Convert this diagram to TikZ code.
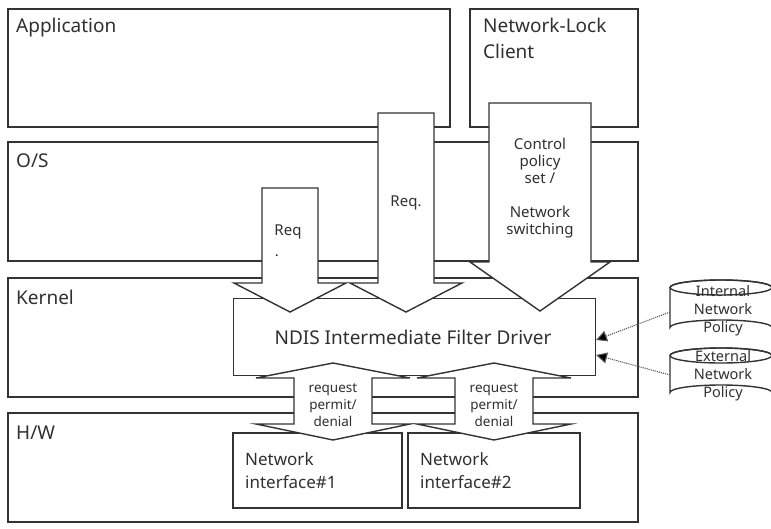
\documentclass[tikz,border=0pt]{standalone}
\usepackage{fontspec}
\setmainfont{Noto Sans}
\usetikzlibrary{arrows.meta}
\definecolor{ln}{HTML}{333333}
\definecolor{tx}{HTML}{303030}
\tikzset{
  layer/.style={draw=ln, line width=1.4pt, fill=white},
  blk/.style={draw=ln, line width=1.4pt, fill=white, line join=miter},
  lbl/.style={anchor=base west, inner sep=0pt, text=tx, font=\fontsize{19}{26}\selectfont},
  arrtxt/.style={inner sep=0pt, text=tx, align=center, font=\fontsize{15}{17}\selectfont},
  rqtxt/.style={inner sep=0pt, text=tx, align=center, font=\fontsize{13.5}{17}\selectfont},
  poltxt/.style={inner sep=0pt, text=tx, align=center, font=\fontsize{14.5}{18}\selectfont},
  niftxt/.style={inner sep=0pt, text=tx, align=left, anchor=north west, font=\fontsize{17}{23}\selectfont},
  polarrow/.style={draw=gray!70!black, densely dotted, line width=1.1pt, -{Triangle[length=11pt,width=11pt,fill=black]}}
}
\begin{document}
\begin{tikzpicture}[x=1pt,y=-1pt]
\useasboundingbox (0,0) rectangle (771,528);
% layers
\draw[layer] (8,9) rectangle (450,127);
\draw[layer] (470,9) rectangle (638,127);
\draw[layer] (8,142) rectangle (638,261);
\draw[layer] (8,278) rectangle (638,397);
\draw[layer] (8,413) rectangle (638,522);
% network interfaces
\draw[layer] (233,433) rectangle (402,508);
\draw[layer] (408,433) rectangle (580,508);
% NDIS
\node[layer, minimum width=362pt, minimum height=77pt, inner sep=0pt, anchor=north west] (ndis) at (233,298) {};
\node[inner sep=0pt, text=tx, font=\fontsize{19}{22}\selectfont] (ndistxt) at (413,337) {NDIS Intermediate Filter Driver};
% down arrows
\draw[blk] (262,188) -- (318,188) -- (318,283) -- (346,283) -- (290,312) -- (234,283) -- (262,283) -- cycle;
\draw[blk] (378,113) -- (434,113) -- (434,283) -- (462,283) -- (406,312) -- (350,283) -- (378,283) -- cycle;
\draw[blk] (489,103) -- (591,103) -- (591,262) -- (610,262) -- (540,311) -- (470,262) -- (489,262) -- cycle;
% double arrows
\draw[blk] (333,363) -- (410,378) -- (372,378) -- (372,424) -- (410,424) -- (333,440) -- (256,424) -- (294,424) -- (294,378) -- (256,378) -- cycle;
\draw[blk] (494,363) -- (571,378) -- (533,378) -- (533,424) -- (571,424) -- (494,440) -- (417,424) -- (455,424) -- (455,378) -- (417,378) -- cycle;
% cylinders
\draw[layer] (670,287.5) arc[start angle=180, end angle=360, x radius=51, y radius=7.5] -- (772,327.5) arc[start angle=0, end angle=-180, x radius=51, y radius=7.5] -- cycle;
\draw[ln, line width=1.4pt] (721,287.5) ellipse[x radius=51, y radius=7.5];
\draw[layer] (670,355.5) arc[start angle=180, end angle=360, x radius=51, y radius=7.5] -- (772,392.5) arc[start angle=0, end angle=-180, x radius=51, y radius=7.5] -- cycle;
\draw[ln, line width=1.4pt] (721,355.5) ellipse[x radius=51, y radius=7.5];
\node[poltxt] (intpol) at (723,311) {Internal\\Network\\Policy};
\node[poltxt] (extpol) at (723,376) {External\\Network\\Policy};
\coordinate (intL) at (670,312);
\coordinate (extL) at (670,375);
\coordinate (ndisA) at (596,340);
\coordinate (ndisB) at (596,355);
\draw[polarrow] (intL) -- (ndisA);
\draw[polarrow] (extL) -- (ndisB);
% labels
\node[lbl] (app) at (16,32) {Application};
\node[lbl] (nlc1) at (483,32) {Network-Lock};
\node[lbl] (nlc2) at (483,58) {Client};
\node[lbl] (os) at (16,167) {O/S};
\node[lbl] (kern) at (16,304) {Kernel};
\node[lbl] (hw) at (16,439) {H/W};
% arrow texts
\node[arrtxt] (req1) at (288,232) {Req};
\node[arrtxt] (req1dot) at (277,256) {.};
\node[arrtxt] (req2) at (406,203) {Req.};
\node[arrtxt] (ctrl) at (540,188) {Control\\policy\\set /\\[17pt]Network\\switching};
\node[rqtxt] (rq1) at (333,405) {request\\permit/\\denial};
\node[rqtxt] (rq2) at (494,405) {request\\permit/\\denial};
\node[niftxt] (nif1) at (245,452) {Network\\interface\#1};
\node[niftxt] (nif2) at (420,452) {Network\\interface\#2};
\end{tikzpicture}
\end{document}
